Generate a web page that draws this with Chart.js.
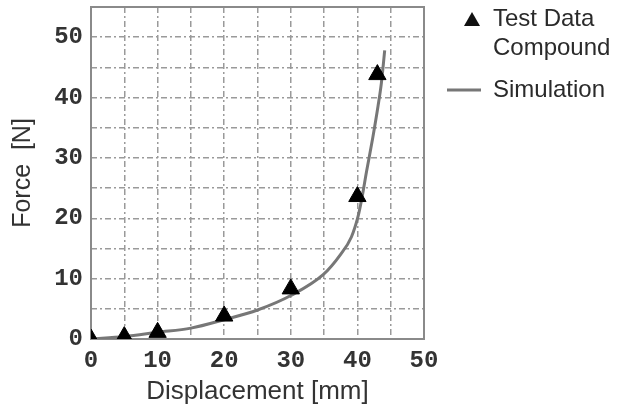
<!DOCTYPE html>
<html><head><meta charset="utf-8">
<script src="https://cdn.jsdelivr.net/npm/chart.js@4/dist/chart.umd.min.js"></script>
<style>html,body{margin:0;padding:0;background:#fff}#wrap{width:619px;height:407px}</style>
</head><body><div id="wrap"><canvas id="c" width="619" height="407"></canvas></div>
<script>
const testX = [0, 5, 10, 20, 30, 40, 43];
const testY = [0, 0.4, 1.1, 3.8, 8.3, 23.6, 43.8];
const simX = [0, 5, 10, 15, 20, 25, 30, 34.9, 37.4, 39.1, 40.1, 40.6, 41.4, 42.3, 43.1, 43.6, 44.1];
const simY = [0, 0.4, 1.1, 1.8, 3.2, 4.8, 7.2, 10.7, 13.9, 16.9, 20.3, 22.9, 27.9, 33.3, 38.6, 42.4, 47.8];
const xTicks = [0, 10, 20, 30, 40, 50];
const yTicks = [0, 10, 20, 30, 40, 50];
const labels = {test: ['Test Data', 'Compound'], sim: 'Simulation', x: 'Displacement [mm]', y: 'Force  [N]'};

const gridCol = '#9a9a9a';
const tickFont = {family: 'Liberation Mono', size: 24, weight: 'bold'};
const frame = {
  id: 'frame',
  beforeDatasetsDraw(chart) {
    const a = chart.chartArea, ctx = chart.ctx;
    ctx.save();
    ctx.strokeStyle = '#8a8a8a'; ctx.lineWidth = 2;
    ctx.strokeRect(a.left, a.top, a.right - a.left, a.bottom - a.top);
    ctx.restore();
  },
  afterDraw(chart) {
    const ctx = chart.ctx;
    ctx.save();
    ctx.fillStyle = '#111';
    ctx.beginPath();
    const tx = 472, ty = 20;
    ctx.moveTo(tx, ty - 8); ctx.lineTo(tx + 8, ty + 6); ctx.lineTo(tx - 8, ty + 6); ctx.closePath(); ctx.fill();
    ctx.fillStyle = '#2a2a2a';
    ctx.font = '24px "Liberation Sans"';
    ctx.textBaseline = 'middle';
    ctx.fillText(labels.test[0], 493, 19);
    ctx.fillText(labels.test[1], 493, 48);
    ctx.strokeStyle = '#777'; ctx.lineWidth = 3;
    ctx.beginPath(); ctx.moveTo(447, 90); ctx.lineTo(481, 90); ctx.stroke();
    ctx.fillText(labels.sim, 493, 90);
    ctx.restore();
  }
};

new Chart(document.getElementById('c'), {
  type: 'scatter',
  data: {
    datasets: [
      {label: labels.test.join(' '), data: testX.map((x, i) => ({x, y: testY[i]})),
       pointStyle: 'triangle', pointRadius: 10, pointBackgroundColor: '#000', pointBorderColor: '#000', showLine: false},
      {label: labels.sim, data: simX.map((x, i) => ({x, y: simY[i]})),
       showLine: true, pointRadius: 0, borderColor: '#777', borderWidth: 3, cubicInterpolationMode: 'monotone'}
    ]
  },
  plugins: [frame],
  options: {
    responsive: false, animation: false,
    layout: {autoPadding: false, padding: {top: 7, right: 195, left: 8, bottom: 0}},
    plugins: {legend: {display: false}, tooltip: {enabled: false}},
    scales: {
      x: {
        type: 'linear', min: 0, max: 50,
        afterFit(s) { s.height = 68; s.paddingLeft = 0; s.paddingRight = 0; },
        afterBuildTicks(s) { s.ticks = []; for (let v = 0; v <= 50; v += 5) s.ticks.push({value: v}); },
        ticks: {callback: v => xTicks.includes(v) ? String(v) : '', font: tickFont, color: '#333', padding: 8, maxRotation: 0, autoSkip: false},
        grid: {color: gridCol, lineWidth: 1.5, drawTicks: false},
        border: {display: false, dash: [6, 3, 2, 3]},
        title: {display: true, text: labels.x, font: {family: 'Liberation Sans', size: 26}, color: '#333', padding: {top: 0, bottom: 0}}
      },
      y: {
        type: 'linear', min: 0, max: 55,
        afterFit(s) { s.width = 83; s.paddingTop = 0; s.paddingBottom = 0; },
        afterBuildTicks(s) { s.ticks = []; for (let v = 0; v <= 55; v += 5) s.ticks.push({value: v}); },
        ticks: {callback: v => yTicks.includes(v) ? String(v) : '', font: tickFont, color: '#333', padding: 8, autoSkip: false},
        grid: {color: gridCol, lineWidth: 1.5, drawTicks: false},
        border: {display: false, dash: [6, 3, 2, 3]},
        title: {display: true, text: labels.y, font: {family: 'Liberation Sans', size: 25}, color: '#333', padding: {top: 0, bottom: 0}}
      }
    }
  }
});
</script></body></html>
